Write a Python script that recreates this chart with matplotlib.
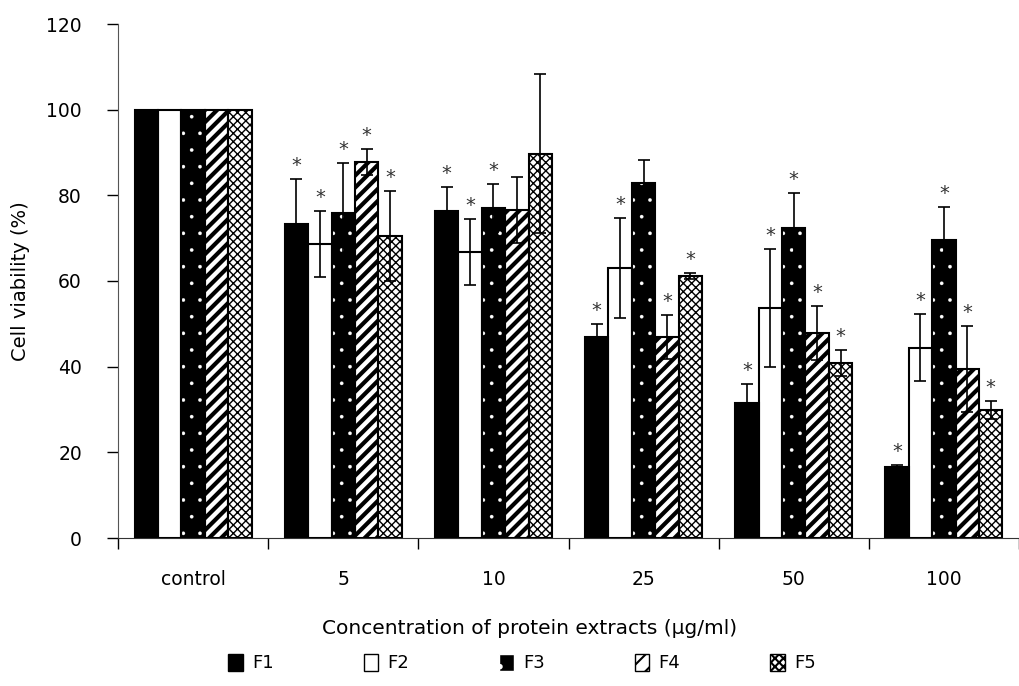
import numpy as np
import matplotlib
matplotlib.use('Agg')
import matplotlib.pyplot as plt
from matplotlib.patches import Patch
from matplotlib.lines import Line2D
from matplotlib.transforms import IdentityTransform

# Data
categories = ['control', '5', '10', '25', '50', '100']
series = ['F1', 'F2', 'F3', 'F4', 'F5']

f1 = [100, 73.3, 76.3, 46.9, 31.5, 16.6]
f2 = [100, 68.6, 66.8, 63.0, 53.7, 44.4]
f3 = [100, 75.9, 77.0, 82.9, 72.4, 69.6]
f4 = [100, 87.8, 76.6, 46.9, 47.9, 39.5]
f5 = [100, 70.5, 89.7, 61.2, 40.9, 29.9]

f1_err = [0, 10.5, 5.7, 3.1, 4.5, 0.5]
f2_err = [0, 7.7, 7.7, 11.7, 13.7, 7.8]
f3_err = [0, 11.7, 5.6, 5.4, 8.1, 7.7]
f4_err = [0, 3.0, 7.7, 5.2, 6.3, 10.0]
f5_err = [0, 10.4, 18.6, 0.7, 3.0, 2.1]

# significant vs control (asterisk)
f1_sig = [0, 1, 1, 1, 1, 1]
f2_sig = [0, 1, 1, 1, 1, 1]
f3_sig = [0, 1, 1, 0, 1, 1]
f4_sig = [0, 1, 0, 1, 1, 1]
f5_sig = [0, 1, 0, 1, 1, 1]

values = [f1, f2, f3, f4, f5]
errors = [f1_err, f2_err, f3_err, f4_err, f5_err]
sigs = [f1_sig, f2_sig, f3_sig, f4_sig, f5_sig]

# fill style for each series: face, hatch colour, hatch, hatch linewidth
styles = [('black', 'black', '', 1.0),
          ('white', 'white', '', 1.0),
          ('black', 'white', '.', 0.2),
          ('white', 'black', '', 1.0),   # stripes drawn by hand below
          ('white', 'black', 'xxxx', 1.0)]

fig = plt.figure(figsize=(10.19, 6.86), dpi=100)
ax = fig.add_axes([118 / 1019, 148 / 686, 1 - 118 / 1019, 514 / 686])
ax.set_xlim(-0.5, 5.454)
ax.set_ylim(0, 120)

x = np.arange(len(categories))
w = 0.156

for i in range(5):
    pos = x + (i - 2) * w
    face, hc, hatch, hlw = styles[i]
    with plt.rc_context({'hatch.linewidth': hlw}):
        b = ax.bar(pos, values[i], w, color=face, edgecolor=hc, hatch=hatch, linewidth=0, zorder=2)
    if i == 3:
        # thick diagonal stripes, 12 px apart
        for p in b:
            bb = p.get_window_extent()
            hgt = bb.height
            for k in np.arange(-hgt, bb.width + 12, 12):
                ln = Line2D([bb.x0 + k, bb.x0 + k + hgt], [bb.y0, bb.y1], color='black',
                            lw=3.0, transform=IdentityTransform(), zorder=2.5)
                ax.add_artist(ln)
                ln.set_clip_path(p)
    ax.bar(pos, values[i], w, fill=False, edgecolor='black', linewidth=1.5, zorder=3)
    ax.errorbar(pos, values[i], yerr=errors[i], fmt='none', ecolor='black',
                elinewidth=1.2, capsize=4.3, capthick=1.2, zorder=4)
    for j in range(len(categories)):
        if sigs[i][j]:
            ax.annotate('*', (pos[j], values[i][j] + errors[i][j]), xytext=(0, 3),
                        textcoords='offset points', ha='center', va='bottom',
                        fontsize=14, color='#333333')

ax.set_yticks(np.arange(0, 121, 20))
ax.set_xticks(np.arange(-0.5, 6, 1))
ax.set_xticklabels([])
ax.set_xticks(x, minor=True)
ax.set_xticklabels(categories, minor=True)
ax.tick_params(axis='x', which='major', direction='out', length=8, width=1)
ax.tick_params(axis='x', which='minor', length=0, pad=23, labelsize=13.5)
ax.tick_params(axis='y', direction='out', length=8, width=1, pad=18, labelsize=13.5)
ax.spines['top'].set_visible(False)
ax.spines['right'].set_visible(False)
ax.spines['left'].set_color('#555555')
ax.spines['bottom'].set_color('#333333')

ax.set_ylabel('Cell viability (%)', fontsize=14, labelpad=12)
fig.text(0.52, 1 - 628 / 686, 'Concentration of protein extracts (\u00b5g/ml)',
         ha='center', va='center', fontsize=14.5)

# legend handles with outline
leg_hatch = ['', '', '.', '//', 'xxxx']
leg_face = ['black', 'white', 'black', 'white', 'white']
leg_hc = ['black', 'black', 'white', 'black', 'black']
with plt.rc_context({'hatch.linewidth': 1.5}):
    leg_handles = []
    for i in range(5):
        leg_handles.append(Patch(facecolor=leg_face[i], edgecolor=leg_hc[i], hatch=leg_hatch[i], linewidth=1))
    leg = fig.legend(leg_handles, series, loc='center', bbox_to_anchor=(522 / 1019, 1 - 663 / 686),
                     ncol=5, frameon=False, fontsize=13, handlelength=0.8, handleheight=1.1,
                     handletextpad=0.5, columnspacing=5.0)

plt.savefig('out.png', dpi=100)
